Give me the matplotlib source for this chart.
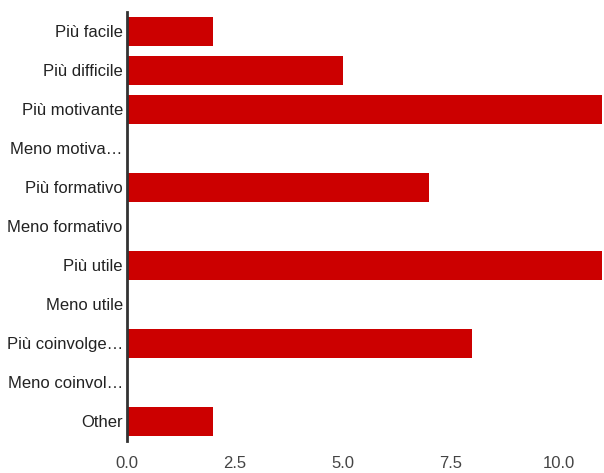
import matplotlib.pyplot as plt
import numpy as np

plt.rcParams['font.family'] = ['Liberation Sans', 'DejaVu Sans']

# categories (top to bottom) and counts
labels = ["Più facile", "Più difficile", "Più motivante", "Meno motiva…",
          "Più formativo", "Meno formativo", "Più utile", "Meno utile",
          "Più coinvolge…", "Meno coinvol…", "Other"]
counts = [2, 5, 11, 0, 7, 0, 11, 0, 8, 0, 2]
xticks = [0.0, 2.5, 5.0, 7.5, 10.0]

f = plt.figure(figsize=(6.04, 4.73), dpi=100)
ax = f.add_axes([0.2103, 0.0677, 0.7864, 0.907])

y = np.arange(len(labels))
ax.barh(y, counts, height=0.74, color='#cc0000')

ax.set_xlim(0, 11)
ax.set_ylim(len(labels) - 0.5, -0.5)
ax.set_yticks(y)
ax.set_yticklabels(labels)
ax.set_xticks(xticks)
ax.set_xticklabels(["%.1f" % v for v in xticks])

for s in ['top', 'right', 'bottom']:
    ax.spines[s].set_visible(False)
ax.spines['left'].set_color('#333333')
ax.spines['left'].set_linewidth(2)

ax.tick_params(axis='both', length=0, labelsize=12, colors='#444444')
ax.tick_params(axis='y', pad=3, labelcolor='#222222')
ax.tick_params(axis='x', pad=11)

plt.savefig("out.png", dpi=100)
plt.close(f)
